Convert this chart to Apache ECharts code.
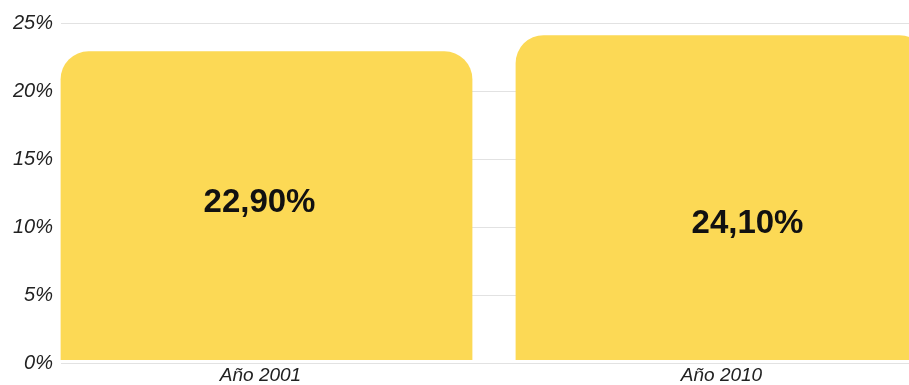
<!DOCTYPE html>
<html>
<head>
<meta charset="utf-8">
<script src="https://cdn.jsdelivr.net/npm/echarts@6/dist/echarts.min.js"></script>
<style>
  html, body { margin: 0; padding: 0; background: #ffffff; overflow: hidden; }
  /* the second bar runs past the right edge of the view */
  #chart { width: 949px; height: 385px; }
</style>
</head>
<body>
<div id="chart"></div>
<script>
// Share of population by year (percent)
const categories = ['Año 2001', 'Año 2010'];
const shareValues = [22.9, 24.1];
const yTicks = [0, 5, 10, 15, 20, 25];

const BAR_COLOR = '#FCD955';
const FONT = '"Liberation Sans", Arial, sans-serif';

const fmtPct = v => v.toFixed(2).replace('.', ',') + '%';

// nudges for the in-bar value labels
const labelOffsets = [[-7, -3], [26, 26]];
// right padding per category label (shifts the text sideways)
const catLabelPad = [12, 0];

const chart = echarts.init(document.getElementById('chart'), null, { renderer: 'canvas' });

chart.setOption({
  animation: false,
  backgroundColor: '#ffffff',
  grid: [
    // bars
    { left: 39, top: 23, right: 0, bottom: 22, containLabel: false },
    // value axis, gridlines
    { left: 61, top: 23, right: 40, bottom: 22, containLabel: false }
  ],
  xAxis: [
    {
      gridIndex: 0,
      type: 'category',
      data: categories.map((c, i) => ({
        value: c,
        textStyle: { padding: [0, catLabelPad[i], 0, 0] }
      })),
      axisLine: { show: false },
      axisTick: { show: false },
      axisLabel: {
        margin: 6,
        fontFamily: FONT,
        fontSize: 19,
        fontStyle: 'italic',
        color: '#222222'
      }
    },
    {
      gridIndex: 1,
      type: 'category',
      data: categories,
      show: false
    }
  ],
  yAxis: [
    {
      gridIndex: 0,
      type: 'value',
      min: 0,
      max: 25,
      interval: 5,
      show: false
    },
    {
      gridIndex: 1,
      type: 'value',
      min: yTicks[0],
      max: yTicks[yTicks.length - 1],
      interval: 5,
      axisLine: { show: false },
      axisTick: { show: false },
      splitLine: { show: true, lineStyle: { color: '#e2e2e2', width: 1 } },
      axisLabel: {
        margin: 8,
        fontFamily: FONT,
        fontSize: 20,
        fontStyle: 'italic',
        color: '#222222',
        formatter: v => v + '%'
      }
    }
  ],
  series: [
    {
      type: 'bar',
      xAxisIndex: 0,
      yAxisIndex: 0,
      barCategoryGap: '9.5%',
      z: 3,
      itemStyle: { color: BAR_COLOR, borderRadius: [28, 28, 0, 0] },
      data: shareValues.map((v, i) => ({
        value: v,
        label: { offset: labelOffsets[i] }
      })),
      label: {
        show: true,
        position: 'inside',
        fontFamily: FONT,
        fontSize: 33,
        fontWeight: 'bold',
        color: '#111111',
        formatter: p => fmtPct(p.value)
      }
    }
  ]
});
</script>
</body>
</html>
